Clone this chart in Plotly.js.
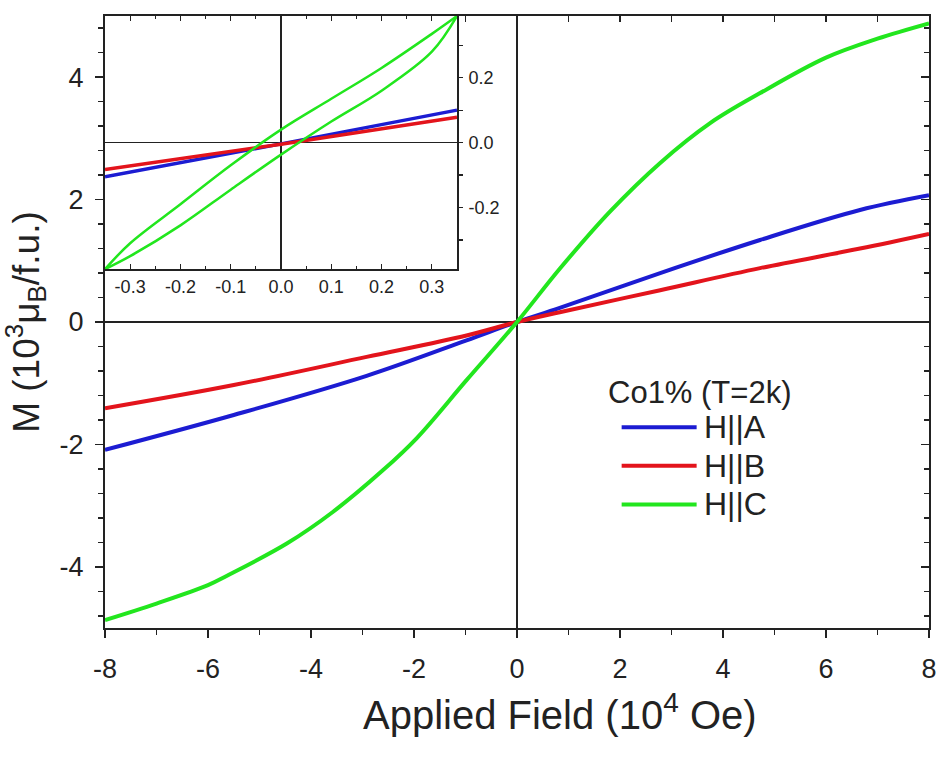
<!DOCTYPE html>
<html>
<head>
<meta charset="utf-8">
<script src="https://cdn.plot.ly/plotly-3.0.1.min.js"></script>
<style>
  html, body { margin: 0; padding: 0; background: #fff; }
  #chart { width: 943px; height: 768px; }
</style>
</head>
<body>
<div id="chart"></div>
<script>
// Magnetisation of Co 1% crystal at T = 2 K, field along the three axes.
// Field in 10^4 Oe, M in 10^-3 muB per formula unit.

// ---- main panel ----
const fieldA = [-8, -5.5, -2.92, -0.98, 0, 0.83, 2.78, 4.72, 6.66, 8];
const magA   = [-2.09, -1.52, -0.88, -0.3, 0, 0.23, 0.8, 1.34, 1.83, 2.07];

const fieldB = [-8, -5.5, -2.92, -0.98, 0, 0.83, 2.78, 4.72, 6.66, 8];
const magB   = [-1.41, -1.03, -0.57, -0.22, 0, 0.16, 0.52, 0.88, 1.2, 1.44];

const fieldC = [-8, -7, -6, -5.64, -4.47, -3.57, -2.6, -1.95, -0.98, 0, 0.83, 1.8, 2.78, 3.75, 4.72, 6, 7, 8];
const magC   = [-4.87, -4.6, -4.3, -4.15, -3.62, -3.1, -2.42, -1.9, -0.95, 0, 0.87, 1.8, 2.6, 3.25, 3.74, 4.32, 4.63, 4.88];

// ---- low-field inset ----
const insetFieldA = [-0.35, 0, 0.35];
const insetMagA   = [-0.105, -0.004, 0.10];

const insetFieldB = [-0.35, 0, 0.35];
const insetMagB   = [-0.083, -0.005, 0.078];

// H||C hysteresis loop: down sweep then up sweep
const insetFieldCdown = [0.35, 0.3, 0.2, 0.1, 0.0, -0.1, -0.2, -0.3, -0.35];
const insetMagCdown   = [0.39, 0.335, 0.23, 0.135, 0.04, -0.07, -0.19, -0.31, -0.39];
const insetFieldCup   = [-0.35, -0.3, -0.2, -0.1, 0.0, 0.1, 0.2, 0.3, 0.35];
const insetMagCup     = [-0.39, -0.35, -0.255, -0.145, -0.037, 0.065, 0.16, 0.28, 0.39];

const seriesNames = ['H||A', 'H||B', 'H||C'];
const seriesColors = ['#1c1cd2', '#e3141c', '#22e61e'];
const legendTitle = 'Co1% (T=2k)';
const xTitle = 'Applied Field (10<sup>4</sup> Oe)';
const yTitle = 'M (10<sup>3</sup>μ<sub>B</sub>/f.u.)';

const mainXTickVals = [-8, -6, -4, -2, 0, 2, 4, 6, 8];
const mainXTickText = ['-8', '-6', '-4', '-2', '0', '2', '4', '6', '8'];
const mainYTickVals = [-4, -2, 0, 2, 4];
const mainYTickText = ['-4', '-2', '0', '2', '4'];

const insetTickVals = [-0.3, -0.2, -0.1, 0.0, 0.1, 0.2, 0.3];
const insetXTickText = ['-0.3', '-0.2', '-0.1', '0.0', '0.1', '0.2', '0.3'];
const insetYTickText = ['', '-0.2', '', '0.0', '', '0.2', ''];

const FONT = 'Liberation Sans, Arial, Helvetica, sans-serif';
const INK = '#222';
const LW = 4;

function line(x, y, color, xa, ya, w) {
  return { x: x, y: y, xaxis: xa, yaxis: ya, type: 'scatter', mode: 'lines',
           line: { color: color, width: w, shape: 'spline', smoothing: 1 },
           showlegend: false, hoverinfo: 'skip' };
}

const traces = [
  line(fieldA, magA, seriesColors[0], 'x', 'y', LW),
  line(fieldB, magB, seriesColors[1], 'x', 'y', LW),
  line(fieldC, magC, seriesColors[2], 'x', 'y', LW),
  line(insetFieldA, insetMagA, seriesColors[0], 'x2', 'y2', 3.5),
  line(insetFieldB, insetMagB, seriesColors[1], 'x2', 'y2', 3.5),
  line(insetFieldCdown, insetMagCdown, seriesColors[2], 'x2', 'y2', 2.5),
  line(insetFieldCup, insetMagCup, seriesColors[2], 'x2', 'y2', 2.5),
  // empty traces so the mirrored top / right tick axes are built
  { x: [], y: [], xaxis: 'x3', yaxis: 'y', type: 'scatter', mode: 'lines', showlegend: false, hoverinfo: 'skip' },
  { x: [], y: [], xaxis: 'x', yaxis: 'y3', type: 'scatter', mode: 'lines', showlegend: false, hoverinfo: 'skip' }
];

// hand-drawn legend block (long line samples)
const legX0 = 0.627, legX1 = 0.718, legTextX = 0.724;
const legYTitle = 0.385, legY = [0.328, 0.265, 0.202];
const shapes = [];
const annotations = [
  { xref: 'paper', yref: 'paper', x: 0.608, y: legYTitle, xanchor: 'left', yanchor: 'middle',
    text: legendTitle, showarrow: false, font: { family: FONT, size: 31, color: INK } },
  // field axis title, sitting a little right of the plot centre
  { xref: 'paper', yref: 'paper', x: 0.552, y: -0.137, xanchor: 'center', yanchor: 'middle',
    text: xTitle, showarrow: false, font: { family: FONT, size: 40, color: INK } }
];
seriesNames.forEach(function (name, i) {
  shapes.push({ type: 'line', xref: 'paper', yref: 'paper', x0: legX0, x1: legX1, y0: legY[i], y1: legY[i],
                line: { color: seriesColors[i], width: 4 } });
  annotations.push({ xref: 'paper', yref: 'paper', x: legTextX, y: legY[i], xanchor: 'left', yanchor: 'middle',
                     text: name, showarrow: false, font: { family: FONT, size: 32, color: INK } });
});

const layout = {
  width: 943, height: 768,
  margin: { l: 105, r: 14, t: 16, b: 140 },
  paper_bgcolor: '#fff', plot_bgcolor: '#fff',
  font: { family: FONT, color: INK },
  showlegend: false,
  xaxis: {
    domain: [0, 1], anchor: 'y', range: [-8, 8],
    tickvals: mainXTickVals, ticktext: mainXTickText,
    ticks: 'outside', ticklen: 8, tickwidth: 1.5, tickcolor: INK,
    minor: { dtick: 1, tick0: 0, ticks: 'outside', ticklen: 5, tickwidth: 1.5, tickcolor: INK },
    showline: true, linecolor: INK, linewidth: 2, showgrid: false,
    zeroline: true, zerolinecolor: INK, zerolinewidth: 1.5,
    tickfont: { family: FONT, size: 27, color: INK }, ticklabelstandoff: 8
  },
  yaxis: {
    domain: [0, 1], anchor: 'x', range: [-5, 5],
    tickvals: mainYTickVals, ticktext: mainYTickText,
    ticks: 'outside', ticklen: 8, tickwidth: 1.5, tickcolor: INK,
    minor: { dtick: 0.4, tick0: 0, ticks: 'outside', ticklen: 5, tickwidth: 1.5, tickcolor: INK },
    showline: true, linecolor: INK, linewidth: 2, showgrid: false,
    zeroline: true, zerolinecolor: INK, zerolinewidth: 2.5,
    tickfont: { family: FONT, size: 27, color: INK }, ticklabelstandoff: 6,
    title: { text: yTitle, font: { family: FONT, size: 37, color: INK }, standoff: 10 }
  },
  xaxis3: {
    overlaying: 'x', side: 'top', anchor: 'y', range: [-8, 8], dtick: 1, tick0: 0,
    ticks: 'inside', ticklen: 6, tickwidth: 1.5, tickcolor: INK,
    showticklabels: false, showline: true, linecolor: INK, linewidth: 2,
    showgrid: false, zeroline: false
  },
  yaxis3: {
    overlaying: 'y', side: 'right', anchor: 'x', range: [-5, 5], dtick: 2, tick0: 0,
    ticks: 'inside', ticklen: 8, tickwidth: 1.5, tickcolor: INK,
    minor: { dtick: 0.4, tick0: 0, ticks: 'inside', ticklen: 5, tickwidth: 1.5, tickcolor: INK },
    showticklabels: false, showline: true, linecolor: INK, linewidth: 2,
    showgrid: false, zeroline: false
  },
  xaxis2: {
    domain: [0, 0.4272], anchor: 'y2', range: [-0.35, 0.35],
    tickvals: insetTickVals, ticktext: insetXTickText,
    ticks: 'inside', ticklen: 5, tickwidth: 1.2, tickcolor: INK,
    minor: { dtick: 0.05, tick0: 0, ticks: 'inside', ticklen: 3, tickwidth: 1.2, tickcolor: INK },
    mirror: 'ticks', showline: true, linecolor: INK, linewidth: 2, showgrid: false,
    zeroline: true, zerolinecolor: INK, zerolinewidth: 1.5,
    tickfont: { family: FONT, size: 18, color: INK }, ticklabelstandoff: 0
  },
  yaxis2: {
    domain: [0.5863, 1], anchor: 'x2', side: 'right', range: [-0.39, 0.39],
    tickvals: insetTickVals, ticktext: insetYTickText,
    ticks: 'outside', ticklen: 4, tickwidth: 1.2, tickcolor: INK,
    showline: true, linecolor: INK, linewidth: 2, showgrid: false,
    zeroline: true, zerolinecolor: INK, zerolinewidth: 1.5,
    tickfont: { family: FONT, size: 18, color: INK }, ticklabelstandoff: 2
  },
  shapes: shapes,
  annotations: annotations
};

Plotly.newPlot('chart', traces, layout, { staticPlot: true, displayModeBar: false });
</script>
</body>
</html>
